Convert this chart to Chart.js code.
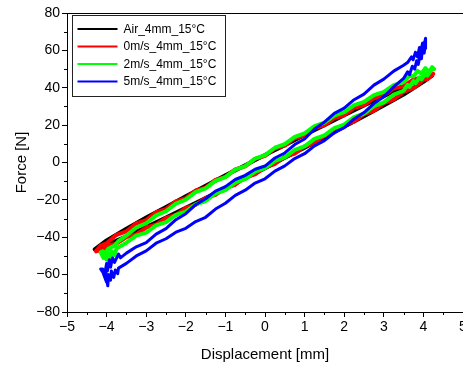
<!DOCTYPE html>
<html>
<head>
<meta charset="utf-8">
<script src="https://cdn.jsdelivr.net/npm/chart.js@4.4.1/dist/chart.umd.min.js"></script>
<style>
  html, body { margin: 0; padding: 0; background: #fff; overflow: hidden; }
  canvas { display: block; }
</style>
</head>
<body>
<canvas id="c" width="463" height="366"></canvas>
<script>
// ---- data ----
const seriesLabels = ['Air_4mm_15°C', '0m/s_4mm_15°C', '2m/s_4mm_15°C', '5m/s_4mm_15°C'];
const seriesColors = ['#000000', '#ff0000', '#00ff00', '#0000ff'];

const xTickValues = [-5, -4, -3, -2, -1, 0, 1, 2, 3, 4, 5];
const yTickValues = [-80, -60, -40, -20, 0, 20, 40, 60, 80];
const xMinorTicks = [-4.5, -3.5, -2.5, -1.5, -0.5, 0.5, 1.5, 2.5, 3.5, 4.5];
const yMinorTicks = [-70, -50, -30, -10, 10, 30, 50, 70];

// Air_4mm_15°C loop (lower branch left->right, then upper branch right->left)
const airDisp = [-4.3, -4.0, -3.5, -3.0, -2.5, -2.0, -1.5, -1.0, -0.5, 0, 0.5, 1.0, 1.5, 2.0, 2.5, 3.0, 3.5, 4.0, 4.22,
                 4.0, 3.5, 3.0, 2.5, 2.0, 1.5, 1.0, 0.5, 0, -0.5, -1.0, -1.5, -2.0, -2.5, -3.0, -3.5, -4.0, -4.3];
const airForce = [-46.5, -44.1, -39.5, -34.5, -29.5, -24.3, -19.0, -13.7, -8.4, -3.0, 2.5, 7.9, 13.5, 19.1, 24.8, 30.5, 36.4, 43.2, 46.5,
                  45.1, 40.5, 35.5, 30.5, 25.3, 20.0, 14.7, 9.3, 4.0, -1.5, -6.9, -12.5, -18.1, -23.8, -29.5, -35.4, -41.7, -46.5];

// 0m/s_4mm_15°C loop
const v0Disp = [-4.27, -4.1, -4.0, -3.75, -3.5, -3.25, -3.0, -2.75, -2.5, -2.25, -2.0, -1.75, -1.5, -1.25, -1.0, -0.75, -0.5, -0.25, 0, 0.25, 0.5, 0.75, 1.0, 1.25, 1.5, 1.75, 2.0, 2.25, 2.5, 2.75, 3.0, 3.25, 3.5, 3.75, 4.0, 4.1, 4.25,
                4.1, 4.0, 3.75, 3.5, 3.25, 3.0, 2.75, 2.5, 2.25, 2.0, 1.75, 1.5, 1.25, 1.0, 0.75, 0.5, 0.25, 0, -0.25, -0.5, -0.75, -1.0, -1.25, -1.5, -1.75, -2.0, -2.25, -2.5, -2.75, -3.0, -3.25, -3.5, -3.75, -4.0, -4.15, -4.27];
const v0Force = [-47.5, -46.9, -44.6, -43.4, -39.9, -38.5, -34.8, -33.2, -29.6, -28.1, -24.3, -22.7, -18.9, -17.3, -13.5, -11.9, -8.0, -6.4, -2.5, -0.8, 3.1, 4.8, 8.7, 10.4, 14.4, 16.1, 20.1, 21.9, 25.9, 27.7, 31.8, 33.7, 37.8, 39.8, 44.2, 44.6, 47.5,
                 47.6, 45.6, 44.5, 40.9, 39.6, 35.8, 34.4, 30.6, 29.2, 25.3, 23.8, 19.9, 18.4, 14.5, 13.0, 9.0, 7.5, 3.5, 1.9, -2.1, -3.7, -7.7, -9.3, -13.4, -15.0, -19.1, -20.8, -24.9, -26.6, -30.8, -32.6, -36.8, -38.7, -43.2, -44.5, -47.5];

// 2m/s_4mm_15°C loop
const v2Disp = [-4.15, -4.08, -4.1, -4.0, -3.98, -3.9, -3.88, -3.8, -3.75, -3.5, -3.25, -3.0, -2.75, -2.5, -2.25, -2.0, -1.75, -1.5, -1.25, -1.0, -0.75, -0.5, -0.25, 0, 0.25, 0.5, 0.75, 1.0, 1.25, 1.5, 1.75, 2.0, 2.25, 2.5, 2.75, 3.0, 3.25, 3.5, 3.6, 3.65, 3.75, 3.8, 3.9, 3.95, 4.05, 4.1, 4.2, 4.27,
                4.22, 4.15, 4.05, 3.95, 3.85, 3.75, 3.65, 3.5, 3.25, 3.0, 2.75, 2.5, 2.25, 2.0, 1.75, 1.5, 1.25, 1.0, 0.75, 0.5, 0.25, 0, -0.25, -0.5, -0.75, -1.0, -1.25, -1.5, -1.75, -2.0, -2.25, -2.5, -2.75, -3.0, -3.25, -3.5, -3.7, -3.8, -3.9, -3.95, -4.05, -4.1, -4.15];
const v2Force = [-48, -51, -48.5, -52, -48.5, -51, -47.5, -49.5, -46, -42.9, -39.1, -37.5, -33.6, -31.9, -28.0, -26.3, -22.4, -20.6, -16.6, -14.8, -10.8, -8.9, -4.9, -3.0, 0.9, 2.8, 6.7, 8.6, 12.6, 14.5, 18.4, 20.3, 24.3, 26.2, 30.2, 32.2, 36.3, 38.4, 41.5, 40.5, 43.5, 42.5, 45.5, 44.5, 47.5, 46.5, 49.5, 50,
                 51, 48.5, 50.5, 47.5, 49, 46, 46.5, 43.0, 41.4, 37.8, 36.1, 32.4, 30.7, 26.9, 25.1, 21.3, 19.5, 15.6, 13.7, 9.8, 7.9, 4.0, 2.1, -1.9, -3.8, -7.8, -9.8, -13.8, -15.8, -19.9, -22.0, -26.1, -28.3, -32.5, -34.8, -39.1, -42, -44.5, -45.5, -46, -49, -47.5, -48];

// 5m/s_4mm_15°C loop
const v5Disp = [-4.15, -4.05, -4.1, -4.0, -4.02, -3.97, -3.95, -3.9, -3.88, -3.82, -3.78, -3.72, -3.7, -3.5, -3.25, -3.0, -2.75, -2.5, -2.25, -2.0, -1.75, -1.5, -1.25, -1.0, -0.75, -0.5, -0.25, 0, 0.25, 0.5, 0.75, 1.0, 1.25, 1.5, 1.75, 2.0, 2.25, 2.5, 2.75, 3.0, 3.25, 3.5, 3.6, 3.65, 3.72, 3.78, 3.83, 3.87, 3.92, 3.95, 3.98, 4.02, 4.05, 4.06,
                4.05, 4.0, 3.98, 3.93, 3.9, 3.85, 3.8, 3.74, 3.7, 3.6, 3.5, 3.25, 3.0, 2.75, 2.5, 2.25, 2.0, 1.75, 1.5, 1.25, 1.0, 0.75, 0.5, 0.25, 0, -0.25, -0.5, -0.75, -1.0, -1.25, -1.5, -1.75, -2.0, -2.25, -2.5, -2.75, -3.0, -3.25, -3.5, -3.65, -3.7, -3.8, -3.85, -3.9, -3.93, -3.98, -4.0, -4.05, -4.1, -4.15];
const v5Force = [-57, -60, -58.5, -64, -59, -66, -60, -63, -58, -61.5, -57.5, -59.5, -56.5, -54, -50.0, -47.3, -43.2, -40.8, -37.3, -35.2, -31.6, -29.3, -24.9, -21.8, -17.6, -14.8, -11.0, -8.7, -4.6, -1.8, 2.1, 4.7, 8.9, 11.7, 15.9, 18.7, 23.3, 26.7, 31.5, 35.2, 40.5, 45, 48.5, 47, 51.5, 50, 54.5, 52.5, 58, 55.5, 61.5, 58.5, 64, 61,
                 66.5, 61.5, 64, 59, 61.5, 56.5, 59, 55, 56.5, 53.5, 52, 48.9, 44.6, 41.4, 36.6, 33.6, 29.1, 26.3, 21.6, 17.9, 12.6, 9.6, 5.1, 2.4, -1.9, -3.6, -6.9, -9.1, -12.9, -15.3, -19.4, -22.6, -27.4, -30.6, -35.4, -38.3, -42.9, -45.1, -48.5, -51, -49, -53.5, -51, -56, -52, -58, -54, -60, -57, -57];

// ---- build ----
const FONT = '"Liberation Sans", Arial, Helvetica, sans-serif';
const loops = [[airDisp, airForce], [v0Disp, v0Force], [v2Disp, v2Force], [v5Disp, v5Force]];
const drawOrder = [3, 2, 1, 0]; // blue drawn on top
const lineWidths = [4, 4, 4, 3];
const datasets = loops.map((l, i) => ({
  label: seriesLabels[i],
  data: l[0].map((x, k) => ({ x: x, y: l[1][k] })),
  showLine: true,
  borderColor: seriesColors[i],
  backgroundColor: seriesColors[i],
  borderWidth: lineWidths[i],
  borderJoinStyle: 'round',
  borderCapStyle: 'round',
  pointRadius: 0,
  tension: 0,
  fill: false,
  order: drawOrder[i]
}));

const fmt = v => (v < 0 ? '\u2212' + Math.abs(v) : String(v));

const decor = {
  id: 'decor',
  afterDraw(chart) {
    const ctx = chart.ctx, a = chart.chartArea;
    const xs = chart.scales.x, ys = chart.scales.y;
    ctx.save();
    ctx.strokeStyle = '#000';
    ctx.lineWidth = 1;
    // top frame line
    ctx.beginPath();
    ctx.moveTo(a.left, Math.round(a.top) + 0.5);
    ctx.lineTo(a.right, Math.round(a.top) + 0.5);
    ctx.stroke();
    // minor ticks
    ctx.beginPath();
    xMinorTicks.forEach(v => {
      const p = Math.round(xs.getPixelForValue(v)) + 0.5;
      ctx.moveTo(p, a.bottom); ctx.lineTo(p, a.bottom + 3);
    });
    yMinorTicks.forEach(v => {
      const p = Math.round(ys.getPixelForValue(v)) + 0.5;
      ctx.moveTo(a.left - 3, p); ctx.lineTo(a.left, p);
    });
    ctx.stroke();
    // legend box
    const x0 = Math.round(a.left) + 5.5, y0 = Math.round(a.top) + 2.5, w = 153, h = 81;
    ctx.fillStyle = '#fff';
    ctx.fillRect(x0, y0, w, h);
    ctx.strokeStyle = '#222';
    ctx.strokeRect(x0, y0, w, h);
    ctx.font = '12px ' + FONT;
    ctx.textBaseline = 'middle';
    ctx.textAlign = 'left';
    chart.data.datasets.forEach((ds, i) => {
      const y = y0 + 13.5 + i * 17.5;
      ctx.strokeStyle = ds.borderColor;
      ctx.lineWidth = 2;
      ctx.beginPath();
      ctx.moveTo(x0 + 5, y); ctx.lineTo(x0 + 45, y);
      ctx.stroke();
      ctx.fillStyle = '#000';
      ctx.fillText(ds.label, x0 + 51, y + 0.5);
    });
    ctx.restore();
  }
};

new Chart(document.getElementById('c'), {
  type: 'scatter',
  data: { datasets: datasets },
  options: {
    responsive: false,
    animation: false,
    devicePixelRatio: 1,
    layout: { padding: { top: 13, right: 0, left: 0, bottom: 0 } },
    plugins: { legend: { display: false }, tooltip: { enabled: false } },
    scales: {
      x: {
        type: 'linear', min: -5, max: 5,
        afterBuildTicks: s => { s.ticks = xTickValues.map(v => ({ value: v })); },
        afterFit: s => { s.height = 54; s.paddingRight = 0; s.paddingLeft = 0; },
        grid: { drawOnChartArea: false, tickLength: 5, color: '#000', tickWidth: 1 },
        border: { color: '#000', width: 1 },
        ticks: { font: { size: 14, family: FONT }, color: '#000', padding: 2, maxRotation: 0, autoSkip: false, callback: fmt },
        title: { display: true, text: 'Displacement [mm]', font: { size: 15, family: FONT }, color: '#000', padding: { top: 4, bottom: 2 } }
      },
      y: {
        type: 'linear', min: -80, max: 80,
        afterBuildTicks: s => { s.ticks = yTickValues.map(v => ({ value: v })); },
        afterFit: s => { s.width = 67; },
        grid: { drawOnChartArea: false, tickLength: 5, color: '#000', tickWidth: 1 },
        border: { color: '#000', width: 1 },
        ticks: { font: { size: 14, family: FONT }, color: '#000', padding: 2, autoSkip: false, callback: fmt },
        title: { display: true, text: 'Force [N]', font: { size: 15, family: FONT }, color: '#000', padding: { top: 13, bottom: 2 } }
      }
    }
  },
  plugins: [decor]
});
</script>
</body>
</html>
